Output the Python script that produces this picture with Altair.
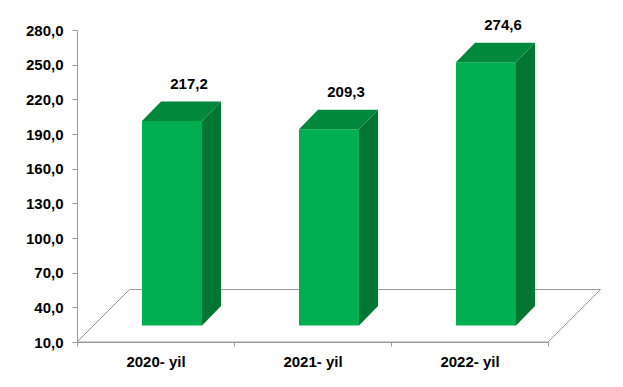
import altair as alt
import pandas as pd

# ---- data ----
categories = ["2020- yil", "2021- yil", "2022- yil"]
values = [217.2, 209.3, 274.6]
y_ticks = [10, 40, 70, 100, 130, 160, 190, 220, 250, 280]

# ---- layout / style constants ----
W, H = 471, 312
N = len(categories)
X_PER_PX = N / W                      # x data units per pixel
AX_DOMAIN = [10, 280]                 # value axis
BAR_DOMAIN = [18, 322]                # scale used by the 3-D columns
BAR_BASE = BAR_DOMAIN[0]
BAR_PER_PX = (BAR_DOMAIN[1] - BAR_DOMAIN[0]) / H
AX_PER_PX = (AX_DOMAIN[1] - AX_DOMAIN[0]) / H

SHIFT = 16.5        # columns stand this far into the floor (px)
BAR_W = 60          # column width (px)
BAR_DX, BAR_DY = 19, 19.5   # column depth (px)
FLOOR_D = 52.5      # floor depth (px)

FRONT = "#00B050"
TOP = "#00883C"
SIDE = "#007633"
GRID = "#9a9a9a"
FONT = "Liberation Sans"
FS = 15

hw = BAR_W / 2 * X_PER_PX
dxu = BAR_DX * X_PER_PX
dyu = BAR_DY * BAR_PER_PX

centers = [i + 0.5 for i in range(N)]
bars = pd.DataFrame({
    "cat": categories,
    "c": centers,
    "v": values,
    "label": [f"{v:.1f}".replace(".", ",") for v in values],
    "x0": [c - hw for c in centers],
    "x1": [c + hw for c in centers],
    "base": [BAR_BASE] * N,
})

side_rows, top_rows = [], []
for name, c, v in zip(categories, centers, values):
    x0, x1 = c - hw, c + hw
    side_rows.append({"name": name, "x": x1, "top": v, "bot": BAR_BASE})
    side_rows.append({"name": name, "x": x1 + dxu, "top": v + dyu, "bot": BAR_BASE + dyu})
    top_rows.append({"name": name, "y": v, "xl": x0, "xr": x1})
    top_rows.append({"name": name, "y": v + dyu, "xl": x0 + dxu, "xr": x1 + dxu})
side = pd.DataFrame(side_rows)
topf = pd.DataFrame(top_rows)

fx = FLOOR_D * X_PER_PX
fy = FLOOR_D * AX_PER_PX
floor = pd.DataFrame({
    "fx": [0, N, N + fx, fx, 0],
    "fy": [AX_DOMAIN[0], AX_DOMAIN[0], AX_DOMAIN[0] + fy, AX_DOMAIN[0] + fy, AX_DOMAIN[0]],
    "ord": [0, 1, 2, 3, 4],
})

label_js = "[" + ",".join(f"'{c}'" for c in categories) + ",''][datum.value]"
X_AXIS = alt.Axis(values=list(range(N + 1)), labelExpr=label_js, labelOffset=W / N / 2,
                  labelFlush=False, labelOverlap=False,
                  title=None, grid=False, domainColor=GRID, tickColor=GRID, tickSize=4,
                  labelFont=FONT, labelFontSize=FS, labelFontWeight="bold", labelColor="black",
                  labelPadding=8)
X_SCALE = alt.Scale(domain=[0, N], nice=False, zero=False)
BAR_SCALE = alt.Scale(domain=BAR_DOMAIN, nice=False, zero=False)
OFFS = dict(xOffset=SHIFT, x2Offset=SHIFT, yOffset=-SHIFT, y2Offset=-SHIFT)

floor_layer = alt.Chart(floor).mark_line(color=GRID, strokeWidth=1).encode(
    x=alt.X("fx:Q", scale=X_SCALE, axis=X_AXIS),
    y=alt.Y("fy:Q", scale=alt.Scale(domain=AX_DOMAIN, nice=False, zero=False),
            axis=alt.Axis(values=y_ticks, title=None, grid=False, domainColor=GRID,
                          tickColor=GRID, tickSize=5, labelPadding=9,
                          labelFlush=False, labelOverlap=False,
                          labelExpr="replace(format(datum.value, '.1f'), '.', ',')",
                          labelFont=FONT, labelFontSize=FS, labelFontWeight="bold",
                          labelColor="black")),
    order="ord:Q",
)

front = alt.Chart(bars).mark_bar(color=FRONT, **OFFS).encode(
    x=alt.X("x0:Q", scale=X_SCALE, axis=X_AXIS),
    x2="x1:Q",
    y=alt.Y("v:Q", scale=BAR_SCALE, axis=None),
    y2="base:Q",
)

side_l = alt.Chart(side).mark_area(color=SIDE, **OFFS).encode(
    x=alt.X("x:Q", scale=X_SCALE, axis=X_AXIS),
    y=alt.Y("top:Q", scale=BAR_SCALE, axis=None),
    y2="bot:Q",
    detail="name:N",
)

top_l = alt.Chart(topf).mark_area(color=TOP, orient="horizontal", **OFFS).encode(
    y=alt.Y("y:Q", scale=BAR_SCALE, axis=None),
    x=alt.X("xl:Q", scale=X_SCALE, axis=X_AXIS),
    x2="xr:Q",
    detail="name:N",
)

text_l = alt.Chart(bars).mark_text(font=FONT, fontSize=FS, fontWeight="bold", color="black",
                                  dx=SHIFT + 17, dy=-SHIFT - 37, baseline="middle").encode(
    x=alt.X("c:Q", scale=X_SCALE, axis=X_AXIS),
    y=alt.Y("v:Q", scale=BAR_SCALE, axis=None),
    text="label:N",
)

bars_layer = alt.layer(front, side_l, top_l, text_l)

chart = alt.layer(floor_layer, bars_layer).resolve_scale(y="independent").properties(
    width=W, height=H,
    autosize=alt.AutoSizeParams(type="none"),
    padding={"left": 69, "top": 22, "right": 67, "bottom": 37},
    background="white",
).configure_view(stroke=None)

chart.save("out.html", embed_options={"renderer": "svg", "actions": False})
